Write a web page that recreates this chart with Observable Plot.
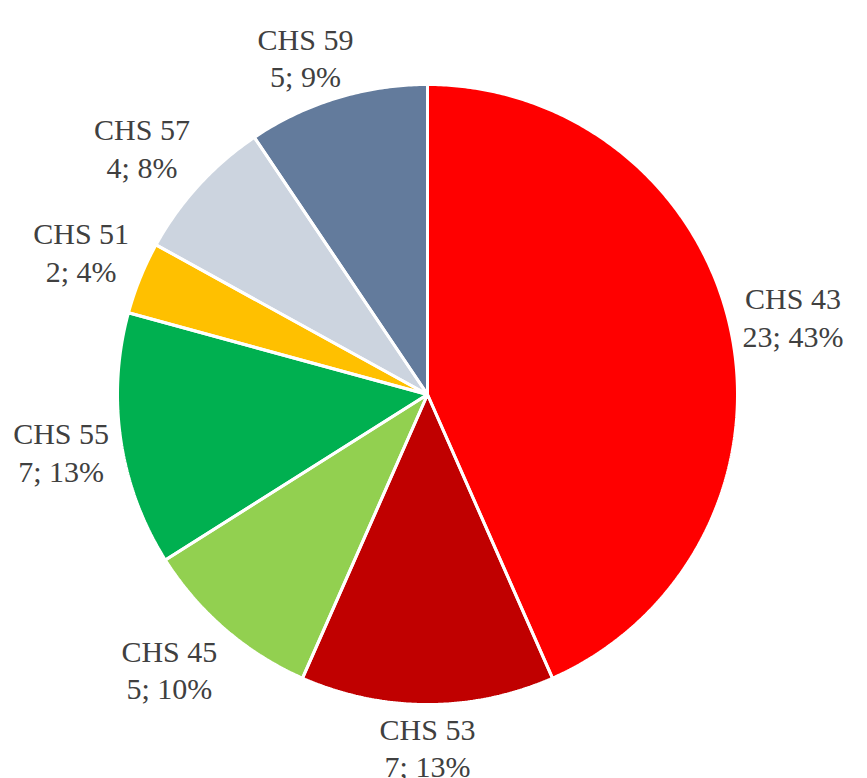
<!DOCTYPE html>
<html>
<head>
<meta charset="utf-8">
<script src="https://cdn.jsdelivr.net/npm/d3@7"></script>
<script src="https://cdn.jsdelivr.net/npm/@observablehq/plot@0.6"></script>
<style>
  html, body { margin: 0; padding: 0; background: #ffffff; }
  #chart svg { display: block; }
</style>
</head>
<body>
<div id="chart"></div>
<script>
// ---- data ----
const names = ["CHS 43", "CHS 53", "CHS 45", "CHS 55", "CHS 51", "CHS 57", "CHS 59"];
const counts = [23, 7, 5, 7, 2, 4, 5];
const percentLabels = ["43%", "13%", "10%", "13%", "4%", "8%", "9%"];
const colors = ["#FF0000", "#C00000", "#92D050", "#00B050", "#FFC000", "#CCD4DF", "#637B9C"];

// ---- layout ----
const W = 867, H = 778;
const cx = 427, cy = 394, r = 310;
const fontSize = 30, lineHeight = 1.25;
const fontFamily = "'Liberation Serif', 'Times New Roman', serif";
const gap = 12;

const rows = names.map((name, i) => ({name, value: counts[i], pct: percentLabels[i]}));
const arcs = d3.pie().sort(null).value(d => d.value).startAngle(0).endAngle(2 * Math.PI)(rows);

const px = a => cx + r * Math.sin(a);
const py = a => cy - r * Math.cos(a);

const slicePts = [];
for (const a of arcs) {
  const name = a.data.name;
  slicePts.push({name, x: cx, y: cy});
  const n = Math.max(2, Math.ceil((a.endAngle - a.startAngle) / (Math.PI / 360)));
  for (let k = 0; k <= n; k++) {
    const t = a.startAngle + (a.endAngle - a.startAngle) * k / n;
    slicePts.push({name, x: px(t), y: py(t)});
  }
  slicePts.push({name, x: cx, y: cy});
}

// measure label boxes so they sit just outside the pie edge
const ctx = document.createElement("canvas").getContext("2d");
ctx.font = `${fontSize}px ${fontFamily}`;
const clampSign = v => Math.sign(v) * Math.min(1, Math.abs(v) * 2);

const labels = arcs.map(a => {
  const m = (a.startAngle + a.endAngle) / 2;
  const lines = [a.data.name, `${a.data.value}; ${a.data.pct}`];
  const hw = d3.max(lines, s => ctx.measureText(s).width) / 2;
  const hh = lines.length * fontSize / 2;
  const s = Math.sin(m), c = Math.cos(m);
  return {
    name: a.data.name,
    x: cx + (r + gap) * s + hw * clampSign(s),
    y: cy - (r + gap) * c - hh * clampSign(c),
    text: lines.join("\n")
  };
});

const chart = Plot.plot({
  width: W,
  height: H,
  margin: 0,
  style: {background: "#ffffff"},
  x: {domain: [0, W], range: [0, W], axis: null},
  y: {domain: [0, H], range: [0, H], axis: null},
  color: {domain: names, range: colors},
  marks: [
    Plot.line(slicePts, {x: "x", y: "y", z: "name", fill: "name", stroke: null}),
    Plot.line(slicePts, {x: "x", y: "y", z: "name", stroke: "#ffffff", strokeWidth: 3, fill: "none", strokeLinejoin: "miter"}),
    Plot.text(labels, {
      x: "x", y: "y", text: "text",
      fontSize,
      fontFamily,
      lineHeight,
      fill: "#404040",
      textAnchor: "middle",
      lineAnchor: "middle"
    })
  ]
});
document.getElementById("chart").appendChild(chart);
</script>
</body>
</html>
